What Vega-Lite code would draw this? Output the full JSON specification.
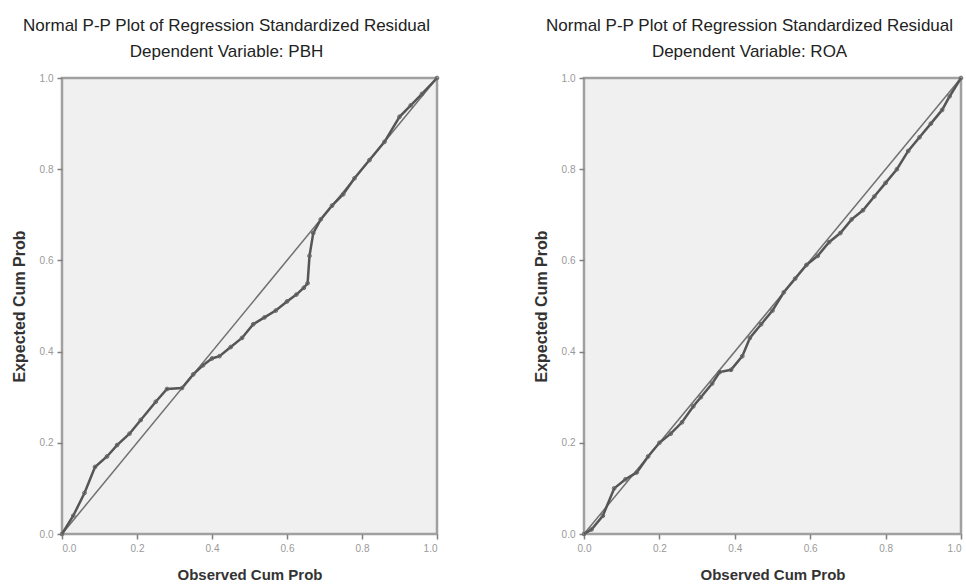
{
  "$schema": "https://vega.github.io/schema/vega-lite/v6.json",
  "background": "white",
  "padding": {"left": 9, "top": 15, "right": 0, "bottom": 0},
  "spacing": 87,
  "datasets": {
    "diag": [{"x": 0, "y": 0, "x2": 1, "y2": 1}],
    "pbh": [
      {"obs": 0.0, "exp": 0.0}, {"obs": 0.03, "exp": 0.04}, {"obs": 0.06, "exp": 0.09}, {"obs": 0.088, "exp": 0.147},
      {"obs": 0.12, "exp": 0.17}, {"obs": 0.147, "exp": 0.195}, {"obs": 0.18, "exp": 0.22}, {"obs": 0.21, "exp": 0.25},
      {"obs": 0.25, "exp": 0.29}, {"obs": 0.28, "exp": 0.318}, {"obs": 0.32, "exp": 0.32}, {"obs": 0.35, "exp": 0.35},
      {"obs": 0.376, "exp": 0.37}, {"obs": 0.4, "exp": 0.385}, {"obs": 0.42, "exp": 0.39}, {"obs": 0.45, "exp": 0.41},
      {"obs": 0.48, "exp": 0.43}, {"obs": 0.51, "exp": 0.46}, {"obs": 0.54, "exp": 0.475}, {"obs": 0.57, "exp": 0.49},
      {"obs": 0.6, "exp": 0.51}, {"obs": 0.625, "exp": 0.525}, {"obs": 0.645, "exp": 0.54}, {"obs": 0.655, "exp": 0.55},
      {"obs": 0.66, "exp": 0.61}, {"obs": 0.67, "exp": 0.66}, {"obs": 0.69, "exp": 0.69}, {"obs": 0.72, "exp": 0.72},
      {"obs": 0.75, "exp": 0.745}, {"obs": 0.78, "exp": 0.78}, {"obs": 0.82, "exp": 0.82}, {"obs": 0.86, "exp": 0.86},
      {"obs": 0.9, "exp": 0.915}, {"obs": 0.93, "exp": 0.94}, {"obs": 0.96, "exp": 0.965}, {"obs": 1.0, "exp": 1.0}
    ],
    "roa": [
      {"obs": 0.0, "exp": 0.0}, {"obs": 0.02, "exp": 0.01}, {"obs": 0.05, "exp": 0.04}, {"obs": 0.08, "exp": 0.1},
      {"obs": 0.11, "exp": 0.12}, {"obs": 0.14, "exp": 0.135}, {"obs": 0.17, "exp": 0.17}, {"obs": 0.2, "exp": 0.2},
      {"obs": 0.23, "exp": 0.22}, {"obs": 0.26, "exp": 0.245}, {"obs": 0.29, "exp": 0.28}, {"obs": 0.31, "exp": 0.3},
      {"obs": 0.34, "exp": 0.33}, {"obs": 0.36, "exp": 0.355}, {"obs": 0.39, "exp": 0.36}, {"obs": 0.42, "exp": 0.39},
      {"obs": 0.44, "exp": 0.43}, {"obs": 0.47, "exp": 0.46}, {"obs": 0.5, "exp": 0.49}, {"obs": 0.53, "exp": 0.53},
      {"obs": 0.56, "exp": 0.56}, {"obs": 0.59, "exp": 0.59}, {"obs": 0.62, "exp": 0.61}, {"obs": 0.65, "exp": 0.64},
      {"obs": 0.68, "exp": 0.66}, {"obs": 0.71, "exp": 0.69}, {"obs": 0.74, "exp": 0.71}, {"obs": 0.77, "exp": 0.74},
      {"obs": 0.8, "exp": 0.77}, {"obs": 0.83, "exp": 0.8}, {"obs": 0.86, "exp": 0.84}, {"obs": 0.89, "exp": 0.87},
      {"obs": 0.92, "exp": 0.9}, {"obs": 0.95, "exp": 0.93}, {"obs": 0.97, "exp": 0.96}, {"obs": 1.0, "exp": 1.0}
    ]
  },
  "hconcat": [
    {
      "width": 375,
      "height": 456,
      "title": {"text": "Normal P-P Plot of Regression Standardized Residual", "subtitle": "Dependent Variable: PBH"},
      "layer": [
        {
          "data": {"name": "diag"},
          "mark": {"type": "rule", "color": "#707070", "strokeWidth": 1.5},
          "encoding": {
            "x": {"field": "x", "type": "quantitative"},
            "y": {"field": "y", "type": "quantitative"},
            "x2": {"field": "x2"},
            "y2": {"field": "y2"}
          }
        },
        {
          "data": {"name": "pbh"},
          "mark": {"type": "line", "color": "#555555", "strokeWidth": 2.5, "point": {"filled": false, "size": 14, "color": "#666666", "strokeWidth": 1}},
          "encoding": {
            "x": {"field": "obs", "type": "quantitative", "title": "Observed Cum Prob", "scale": {"domain": [0, 1], "nice": false}, "axis": {"values": [0, 0.2, 0.4, 0.6, 0.8, 1], "format": ".1f"}},
            "y": {"field": "exp", "type": "quantitative", "title": "Expected Cum Prob", "scale": {"domain": [0, 1], "nice": false}, "axis": {"values": [0, 0.2, 0.4, 0.6, 0.8, 1], "format": ".1f"}},
            "order": {"field": "obs", "type": "quantitative"}
          }
        }
      ]
    },
    {
      "width": 377,
      "height": 456,
      "title": {"text": "Normal P-P Plot of Regression Standardized Residual", "subtitle": "Dependent Variable: ROA"},
      "layer": [
        {
          "data": {"name": "diag"},
          "mark": {"type": "rule", "color": "#707070", "strokeWidth": 1.5},
          "encoding": {
            "x": {"field": "x", "type": "quantitative"},
            "y": {"field": "y", "type": "quantitative"},
            "x2": {"field": "x2"},
            "y2": {"field": "y2"}
          }
        },
        {
          "data": {"name": "roa"},
          "mark": {"type": "line", "color": "#555555", "strokeWidth": 2.5, "point": {"filled": false, "size": 14, "color": "#666666", "strokeWidth": 1}},
          "encoding": {
            "x": {"field": "obs", "type": "quantitative", "title": "Observed Cum Prob", "scale": {"domain": [0, 1], "nice": false}, "axis": {"values": [0, 0.2, 0.4, 0.6, 0.8, 1], "format": ".1f", "labelAlign": {"expr": "datum.value == 1 ? 'right' : 'center'"}}},
            "y": {"field": "exp", "type": "quantitative", "title": "Expected Cum Prob", "scale": {"domain": [0, 1], "nice": false}, "axis": {"values": [0, 0.2, 0.4, 0.6, 0.8, 1], "format": ".1f"}},
            "order": {"field": "obs", "type": "quantitative"}
          }
        }
      ]
    }
  ],
  "config": {
    "font": "Liberation Sans",
    "view": {"fill": "#f0f0f0", "stroke": "#a0a0a0", "strokeWidth": 2.5},
    "axis": {
      "grid": false,
      "domain": false,
      "ticks": true,
      "tickColor": "#808080",
      "tickSize": 5,
      "tickWidth": 1.5,
      "labelColor": "#999999",
      "labelFontSize": 10,
      "labelPadding": 4,
      "titleColor": "#333333",
      "titleFontWeight": "bold"
    },
    "axisX": {"titlePadding": 14, "titleFontSize": 15},
    "axisY": {"titlePadding": 12, "titleFontSize": 16},
    "title": {
      "frame": "bounds",
      "anchor": "middle",
      "font": "Liberation Sans",
      "fontSize": 17,
      "fontWeight": "normal",
      "color": "#222222",
      "subtitleFont": "Liberation Sans",
      "subtitleFontSize": 17,
      "subtitleColor": "#222222",
      "subtitlePadding": 9,
      "offset": 12
    }
  }
}
